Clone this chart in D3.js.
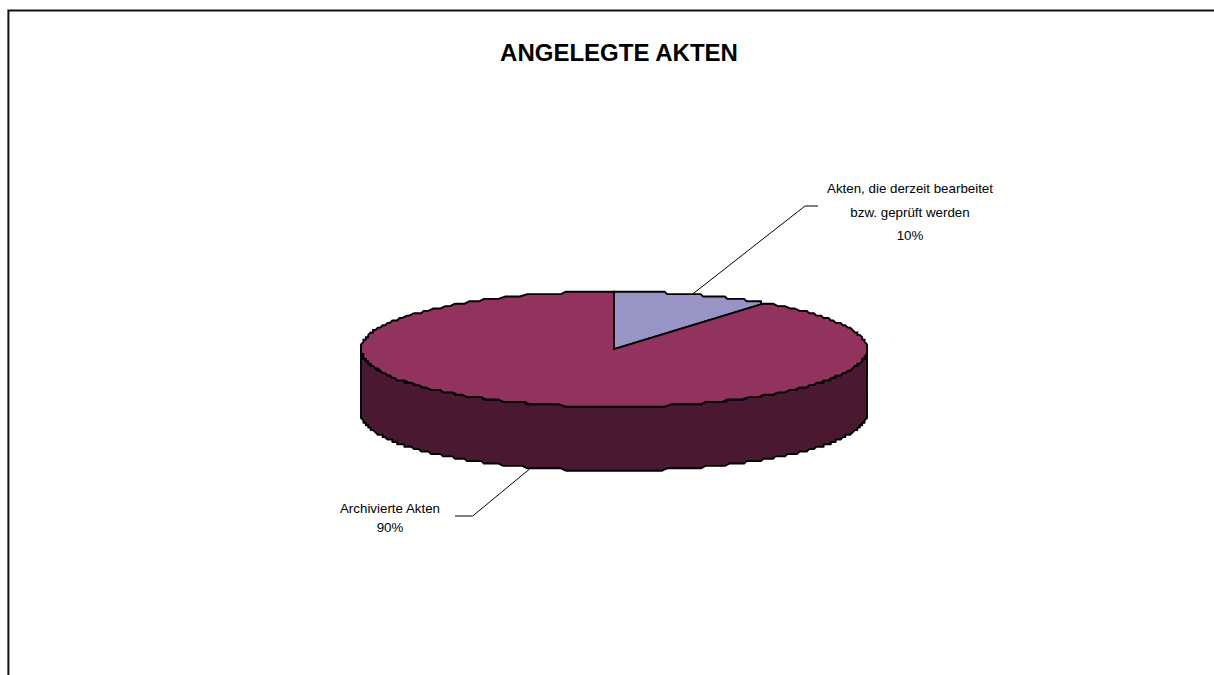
<!DOCTYPE html>
<html lang="de">
<head>
<meta charset="utf-8">
<title>Angelegte Akten</title>
<script src="https://cdn.jsdelivr.net/npm/d3@7/dist/d3.min.js"></script>
<style>
  html, body { margin: 0; padding: 0; background: #fff; }
  svg { display: block; }
  text { font-family: "Liberation Sans", Arial, sans-serif; fill: #000; }
</style>
</head>
<body>
<script>
const chartTitle = "ANGELEGTE AKTEN";
const categories = ["Akten, die derzeit bearbeitet bzw. geprüft werden", "Archivierte Akten"];
const shares = [10, 90];
const sliceColors = ["#9894c6", "#92335f"];
const sideColor = "#4a1830";
const labelLines = [
  ["Akten, die derzeit bearbeitet", "bzw. geprüft werden", "10%"],
  ["Archivierte Akten", "90%"]
];

const width = 1214, height = 675;
const svg = d3.select("body").append("svg").attr("width", width).attr("height", height);

// Outer frame: left and top edges stay visible, the rest runs off the page
svg.append("path")
  .attr("d", d3.line()([[8.4, height + 2], [8.4, 10.5], [width + 2, 10.5]]))
  .attr("fill", "none").attr("stroke", "#111").attr("stroke-width", 2);

svg.append("text").attr("x", 619).attr("y", 61).attr("text-anchor", "middle")
  .attr("font-size", 24).attr("font-weight", "bold").text(chartTitle);

// Tilted disc: unit circle coordinates are mapped on to the page by two scales
const x = d3.scaleLinear().domain([-1, 1]).range([361, 867]);
const y = d3.scaleLinear().domain([-1, 1]).range([291.7, 406.7]);
const depth = 64;

const rim = (a0, a1) => d3.range(0, 1.0001, 1 / 240).map(t => {
  const a = a0 + (a1 - a0) * t;
  return [Math.sin(a), -Math.cos(a)];
});
// Snapping to a coarse grid around the centre gives the stepped outline of the disc
const snap = (v, steps) => Math.round(v * steps) / steps;
const stepped = pts => pts.map(([u, v]) => [x(snap(u, 105)), y(snap(v, 24))]);

const pie = d3.pie().sort(null)(shares);
const line = d3.line();
const centre = [x(0), y(0)];

// Visible wall of the disc: the front half of the rim, extruded downward
const front = stepped(rim(Math.PI / 2, Math.PI * 1.5));
const wall = front.concat(front.slice().reverse().map(([px, py]) => [px, py + depth]));
svg.append("path").attr("d", line(wall) + "Z")
  .attr("fill", sideColor).attr("stroke", "#000").attr("stroke-width", 1.9).attr("stroke-linejoin", "round");

// Top face, one wedge per category
svg.selectAll("path.slice").data(pie).join("path").attr("class", "slice")
  .attr("d", d => line([centre, ...stepped(rim(d.startAngle, d.endAngle))]) + "Z")
  .attr("fill", (d, i) => sliceColors[i])
  .attr("stroke", "#000").attr("stroke-width", 1.9).attr("stroke-linejoin", "miter");

// Leader lines from the disc to the labels
const leader = pts => svg.append("path").attr("d", line(pts))
  .attr("fill", "none").attr("stroke", "#000").attr("stroke-width", 1);
leader([[692.7, 294], [805, 206], [818, 206]]);
leader([[532, 467], [472.7, 516], [455, 516]]);

function label(lines, cx, y0, step) {
  lines.forEach((t, i) => {
    svg.append("text").attr("x", cx).attr("y", y0 + i * step).attr("text-anchor", "middle")
      .attr("font-size", 13.33).text(t);
  });
}
label(labelLines[0], 910, 193, 23.5);
label(labelLines[1], 390, 513, 19);
</script>
</body>
</html>
